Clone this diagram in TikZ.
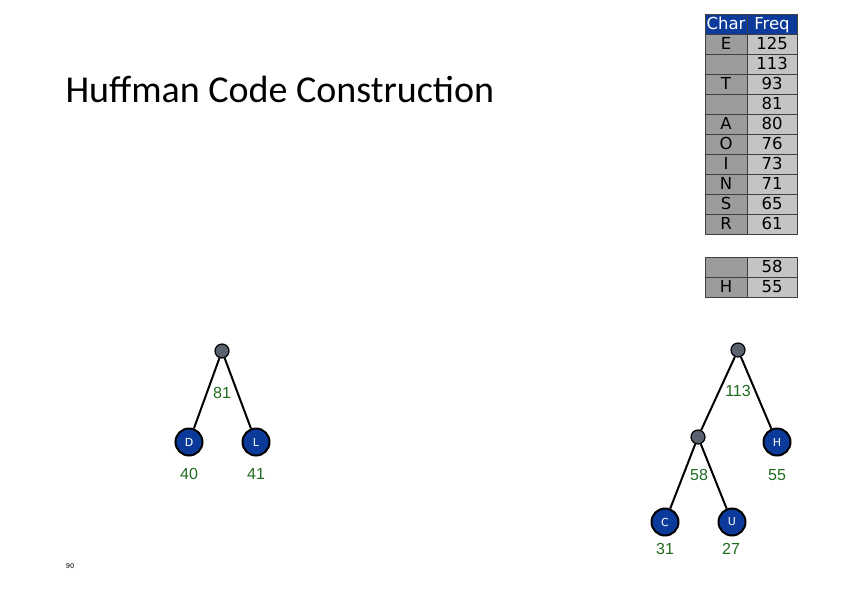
\documentclass[tikz,border=0pt]{standalone}
\usepackage{fontspec}
\setmainfont{Carlito}
\newfontfamily\tabfont{DejaVu Sans}
\newfontfamily\numfont{Liberation Sans}
\usetikzlibrary{positioning}
\definecolor{navy}{HTML}{0B3A9A}
\definecolor{chargray}{HTML}{9C9C9C}
\definecolor{freqgray}{HTML}{C4C4C4}
\definecolor{inner}{HTML}{5A6270}
\definecolor{wgreen}{HTML}{1F6B1F}

\begin{document}
\begin{tikzpicture}[x=1pt,y=-1pt]
\tikzset{
  charcell/.style={rectangle,draw=black!75,fill=chargray,minimum width=42pt,minimum height=20pt,inner sep=0pt,text height=12pt,text depth=2pt,font=\tabfont\fontsize{16.5}{16.5}\selectfont},
  freqcell/.style={charcell,fill=freqgray,minimum width=50pt},
  headcell/.style={fill=navy,text=white},
  leaf/.style={circle,draw=black,line width=2pt,fill=navy,text=white,minimum size=27pt,inner sep=0pt,font=\tabfont\fontsize{11}{11}\selectfont},
  joint/.style={circle,draw=black,line width=1.2pt,fill=inner,minimum size=14pt,inner sep=0pt},
  weight/.style={text=wgreen,font=\numfont\fontsize{16}{16}\selectfont},
  branch/.style={line width=2pt}
}
\useasboundingbox (0,0) rectangle (842,595);
% title and page number
\node[anchor=west,font=\fontsize{38}{38}\selectfont] (title) at (62,89) {Huffman Code Construction};
\node[font=\ttfamily\fontsize{8}{8}\selectfont] (pageno) at (70,566) {90};
% frequency table
\node[charcell,headcell] (c_head) at (726,24) {Char};
\node[freqcell,headcell] (f_head) at (772,24) {Freq};
\foreach \y/\c/\f in {44/E/125,64//113,84/T/93,104//81,124/A/80,144/O/76,164/I/73,184/N/71,204/S/65,224/R/61,267//58,287/H/55}{
  \node[charcell] (c_\y) at (726,\y) {\c};
  \node[freqcell] (f_\y) at (772,\y) {\f};
}
% left tree
\node[joint] (n_81) at (222,351) {};
\node[leaf] (n_D) at (189,442) {D};
\node[leaf] (n_L) at (256,442) {L};
\draw[branch] (n_81) -- (n_D);
\draw[branch] (n_81) -- (n_L);
\node[weight] (w_81) at (222,393) {81};
\node[weight] (w_D) at (189,474) {40};
\node[weight] (w_L) at (256,474) {41};
% right tree
\node[joint] (n_113) at (738,350) {};
\node[joint] (n_58) at (698,437) {};
\node[leaf] (n_H) at (777,442) {H};
\node[leaf] (n_C) at (665,522) {C};
\node[leaf] (n_U) at (732,522) {U};
\draw[branch] (n_113) -- (n_58);
\draw[branch] (n_113) -- (n_H);
\draw[branch] (n_58) -- (n_C);
\draw[branch] (n_58) -- (n_U);
\node[weight] (w_113) at (738,391) {113};
\node[weight] (w_58) at (699,475) {58};
\node[weight] (w_H) at (777,475) {55};
\node[weight] (w_C) at (665,549) {31};
\node[weight] (w_U) at (731,549) {27};
\end{tikzpicture}
\end{document}
